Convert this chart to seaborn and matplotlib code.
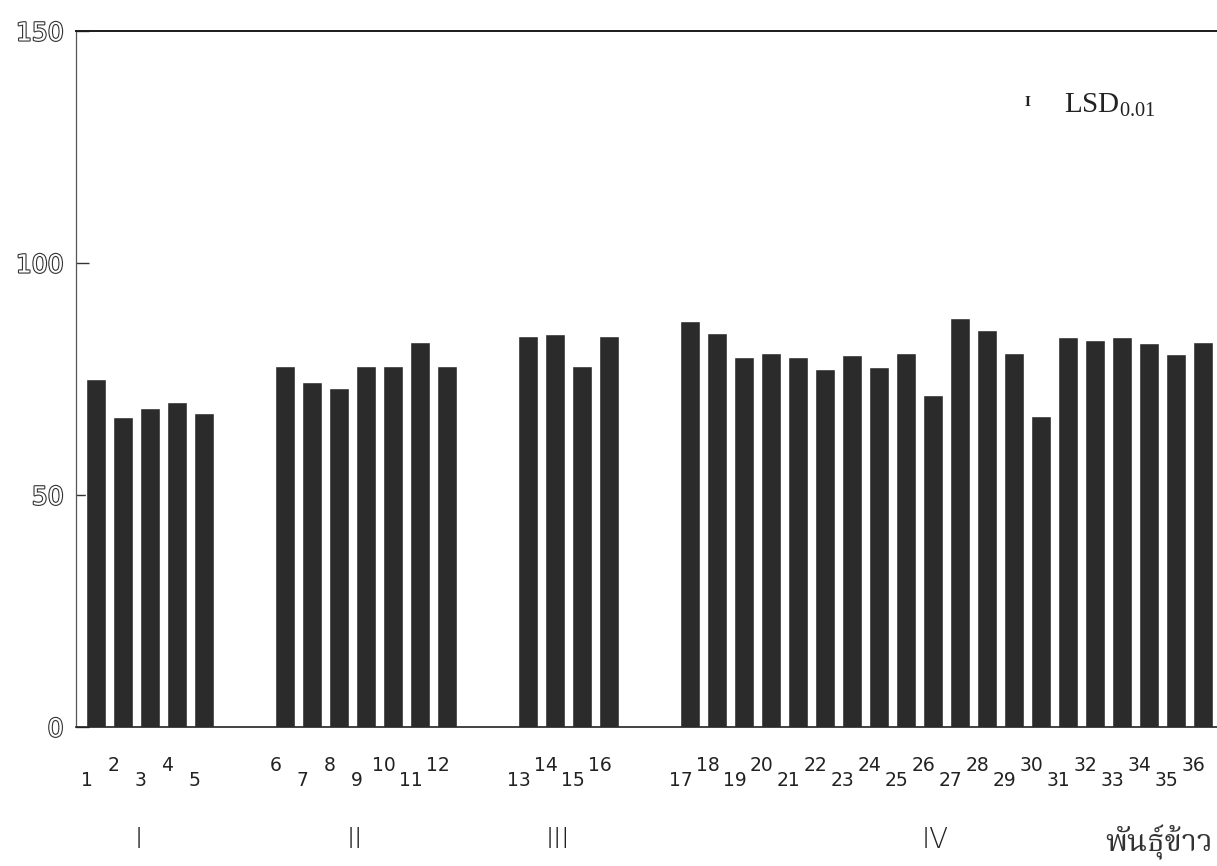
import numpy as np
import pandas as pd
import matplotlib
matplotlib.use("Agg")
import matplotlib.pyplot as plt
import seaborn as sns
from matplotlib import patheffects as pe
from matplotlib import font_manager as fm
from matplotlib.ft2font import FT2Font

# ---------------- data ----------------
group_names = ["I", "II", "III", "IV"]
group_sizes = [5, 7, 4, 20]
variety_labels = [str(i) for i in range(1, 37)]
values = [
    74.9, 66.9, 68.7, 70.0, 67.6,                     # I
    77.9, 74.3, 73.0, 77.9, 77.9, 82.9, 77.9,         # II
    84.2, 84.7, 77.8, 84.2,                           # III
    87.6, 85.0, 79.8, 80.7, 79.7, 77.1, 80.2, 77.6,   # IV
    80.7, 71.5, 88.2, 85.5, 80.5, 67.0, 84.0, 83.5,
    84.0, 82.7, 80.3, 83.0,
]
y_ticks = [0, 50, 100, 150]
x_axis_title = "พันธุ์ข้าว"
lsd_text = r"$\mathrm{LSD}_{0.01}$"

# ---------------- layout of the category slots ----------------
GAP = 2
positions, group_centers = [], []
cur = 0
for n in group_sizes:
    positions.extend(range(cur, cur + n))
    group_centers.append(cur + (n - 1) / 2)
    cur += n + GAP

df = pd.DataFrame({"pos": positions, "val": values, "label": variety_labels})

# ---------------- fonts ----------------
def find_font(ch, prefer=()):
    found = []
    for f in fm.fontManager.ttflist:
        try:
            ft = FT2Font(f.fname)
            if ft.get_char_index(ord(ch)):
                found.append(f.name)
        except Exception:
            pass
    for p in prefer:
        for name in found:
            if p.lower() in name.lower():
                return name
    return found[0] if found else "DejaVu Sans"

thai_font = find_font("พ", prefer=("Kinnari", "Norasi", "Serif Thai", "Thai", "Garuda", "Loma"))

sns.set_theme(style="white")
plt.rcParams["font.family"] = ["DejaVu Sans"]
plt.rcParams["mathtext.fontset"] = "custom"
plt.rcParams["mathtext.rm"] = "Liberation Serif"
plt.rcParams["mathtext.it"] = "Liberation Serif:italic"

W, H = 1217, 866
fig = plt.figure(figsize=(W / 100, H / 100), dpi=100)
fig.patch.set_facecolor("white")
ax_left, ax_top, ax_bottom = 76, 31, 727
ax = fig.add_axes([ax_left / W, 1 - ax_bottom / H, 1 - ax_left / W, (ax_bottom - ax_top) / H])
ax.set_facecolor("white")

sns.barplot(data=df, x="pos", y="val", native_scale=True, width=0.73,
            color="#2b2b2b", saturation=1, errorbar=None, ax=ax)

ax.set_xlim(-0.74, 41.52)
ax.set_ylim(0, 150)
ax.set_xlabel("")
ax.set_ylabel("")
ax.set_xticks([])
ax.set_yticks(y_ticks)
ax.set_yticklabels([str(t) for t in y_ticks])
ax.tick_params(axis="y", direction="in", length=9, width=1, color="#333333",
               pad=9, labelsize=18, left=True)
for lbl in ax.get_yticklabels():
    lbl.set_color("white")
    lbl.set_path_effects([pe.withStroke(linewidth=1.6, foreground="#333333")])

ax.spines["right"].set_visible(False)
ax.spines["top"].set_color("#1a1a1a")
ax.spines["top"].set_linewidth(1.4)
ax.spines["bottom"].set_color("#222222")
ax.spines["bottom"].set_linewidth(1.2)
ax.spines["left"].set_color("#555555")
ax.spines["left"].set_linewidth(0.9)

# ---------------- category labels (alternating heights) ----------------
xt = ax.get_xaxis_transform()
for p, lab in zip(df["pos"], df["label"]):
    odd = int(lab) % 2 == 1
    yf = -0.077 if odd else -0.056
    ax.text(p - 0.35, yf, lab, transform=xt, ha="center", va="center",
            fontsize=13.5, color="#222222", clip_on=False)

for c, g in zip(group_centers, group_names):
    ax.text(c - 0.4, -0.162, g, transform=xt, ha="center", va="center",
            fontsize=20, fontweight="light", color="#222222", clip_on=False)

ax.text(0.949, -0.166, x_axis_title, transform=ax.transAxes, ha="center",
        va="center", fontsize=22, color="#333333", family=[thai_font, "DejaVu Sans"])

# ---------------- LSD legend ----------------
ax.text(0.834, 0.897, "I", transform=ax.transAxes, ha="center", va="center",
        fontsize=11, fontweight="bold", family="Liberation Serif", color="#222222")
ax.text(0.866, 0.882, lsd_text, transform=ax.transAxes, ha="left", va="baseline",
        fontsize=21, color="#222222")

fig.savefig("out.png", dpi=100, facecolor="white")
